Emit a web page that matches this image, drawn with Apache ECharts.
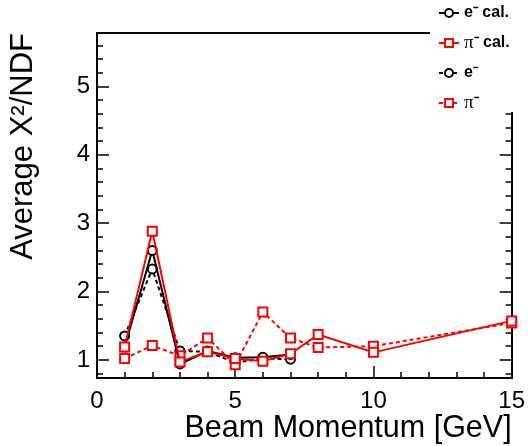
<!DOCTYPE html>
<html><head><meta charset="utf-8">
<script src="https://cdn.jsdelivr.net/npm/echarts@6/dist/echarts.min.js"></script>
<style>html,body{margin:0;padding:0;background:#fff}#c{width:528px;height:446px}</style>
</head><body><div id="c"></div>
<script>
// Data
const xElectron = [1, 2, 3, 4, 5, 6, 7];
const eCal = [1.19, 2.60, 0.94, 1.13, 1.03, 1.04, 1.08];
const eRaw = [1.35, 2.33, 1.13, 1.12, 0.96, 1.02, 1.01];
const xPion = [1, 2, 3, 4, 5, 6, 7, 8, 10, 15];
const piCal = [1.19, 2.88, 0.97, 1.12, 1.02, 0.98, 1.09, 1.37, 1.11, 1.57];
const piRaw = [1.02, 1.21, 1.06, 1.32, 0.93, 1.70, 1.32, 1.18, 1.20, 1.54];
const seriesNames = ['e⁻ cal.', 'π⁻ cal.', 'e⁻', 'π⁻'];
const yMajorTicks = [1, 2, 3, 4, 5];
const yMinorTicks = [0.8,1.0,1.2,1.4,1.6,1.8,2.0,2.2,2.4,2.6,2.8,3.0,3.2,3.4,3.6,3.8,4.0,4.2,4.4,4.6,4.8,5.0,5.2,5.4,5.6];
const xTitle = 'Beam Momentum [GeV]';
const yTitle = 'Average X²/NDF';

const pairs = (xs, ys) => xs.map((x, i) => [x, ys[i]]);
const FONT = 'Liberation Sans, Arial, Helvetica, sans-serif';
const YMIN = 0.735, YMAX = 5.78;

const chart = echarts.init(document.getElementById('c'), null, {renderer: 'canvas'});

function yAx(pos, custom, len, labels, line) {
  return {
    type: 'value', min: YMIN, max: YMAX, position: pos, z: 1,
    axisLine: {show: line, onZero: false, lineStyle: {color: '#000', width: 2}},
    axisTick: {show: true, inside: true, length: len, customValues: custom, lineStyle: {color: '#000', width: 1.5}},
    axisLabel: labels ? {show: true, customValues: yMajorTicks, margin: 7, color: '#000', fontSize: 24, fontFamily: FONT} : {show: false},
    splitLine: {show: false}
  };
}

const yAxes = [
  Object.assign(yAx('left', yMajorTicks, 12, true, true), {
    name: yTitle, nameLocation: 'end', nameRotate: 90, nameGap: 0,
    nameTextStyle: {color: '#000', fontSize: 31, fontFamily: FONT, align: 'right', verticalAlign: 'bottom', padding: [0, 0, 58, 0]}
  }),
  yAx('left', yMinorTicks, 6, false, false),
  yAx('right', yMajorTicks, 12, false, true),
  yAx('right', yMinorTicks, 6, false, false)
];

const option = {
  animation: false,
  backgroundColor: '#fff',
  grid: {left: 97, right: 16, top: 33, bottom: 68, containLabel: false},
  graphic: [{
    type: 'rect', left: 430, top: 0, z: 40, zlevel: 1,
    shape: {width: 98, height: 112},
    style: {fill: '#fff'}
  }],
  xAxis: [{
    type: 'value', min: 0, max: 15, interval: 5, z: 1,
    axisLine: {onZero: false, lineStyle: {color: '#000', width: 2}},
    axisTick: {inside: true, length: 12, lineStyle: {color: '#000', width: 1.5}},
    minorTick: {show: true, splitNumber: 5, length: 6, lineStyle: {color: '#000', width: 1.5}},
    axisLabel: {margin: 11, color: '#000', fontSize: 24, fontFamily: FONT},
    splitLine: {show: false}, minorSplitLine: {show: false},
    name: xTitle, nameLocation: 'end', nameGap: 0,
    nameTextStyle: {color: '#000', fontSize: 30.5, fontFamily: FONT, align: 'right', verticalAlign: 'top', padding: [35, 0, 0, 0]}
  }, {
    type: 'value', min: 0, max: 15, position: 'top', z: 1,
    axisLine: {onZero: false, lineStyle: {color: '#000', width: 2}},
    axisTick: {show: false}, axisLabel: {show: false}, splitLine: {show: false}
  }],
  yAxis: yAxes,
  legend: {
    orient: 'vertical', left: 430, top: 0, z: 50, zlevel: 1,
    padding: [5, 10, 8, 8],
    itemWidth: 20, itemHeight: 10, itemGap: 12.5,
    data: seriesNames,
    formatter: name => name.replace('π⁻', '{pi|π}⁻'),
    textStyle: {
      color: '#000', fontSize: 16, fontWeight: 'bold', fontFamily: FONT, lineHeight: 16,
      rich: {pi: {fontSize: 19, fontWeight: 'normal', fontFamily: 'Liberation Serif, serif', color: '#000', lineHeight: 16}}
    }
  },
  series: [
    {name: seriesNames[0], type: 'line', data: pairs(xElectron, eCal), z: 3,
      symbol: 'emptyCircle', symbolSize: 9, lineStyle: {color: '#000', width: 2},
      itemStyle: {color: '#000', borderColor: '#000', borderWidth: 1.2}},
    {name: seriesNames[1], type: 'line', data: pairs(xPion, piCal), z: 4,
      symbol: 'emptyRect', symbolSize: 9, lineStyle: {color: '#ff0000', width: 2},
      itemStyle: {color: '#ff0000', borderColor: '#ff0000', borderWidth: 1.2}},
    {name: seriesNames[2], type: 'line', data: pairs(xElectron, eRaw), z: 2,
      symbol: 'emptyCircle', symbolSize: 9, lineStyle: {color: '#000', width: 2, type: [4, 3]},
      itemStyle: {color: '#000', borderColor: '#000', borderWidth: 1.2}},
    {name: seriesNames[3], type: 'line', data: pairs(xPion, piRaw), z: 2,
      symbol: 'emptyRect', symbolSize: 9, lineStyle: {color: '#ff0000', width: 2, type: [4, 3]},
      itemStyle: {color: '#ff0000', borderColor: '#ff0000', borderWidth: 1.2}}
  ]
};
chart.setOption(option);
</script></body></html>
